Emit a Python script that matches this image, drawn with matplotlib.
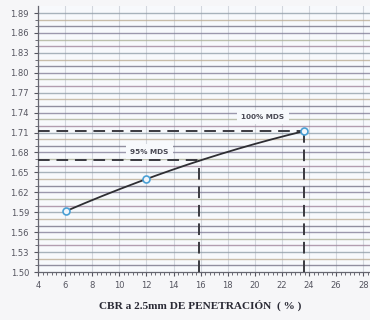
import numpy as np
import matplotlib
matplotlib.use("Agg")
import matplotlib.pyplot as plt

# Data
cbr = [6.1, 12.0, 23.6]
density = [1.592, 1.640, 1.712]
mds_100 = 1.713
mds_95 = 1.668
cbr_100 = 23.6
cbr_95 = 15.85
xticks = [4, 6, 8, 10, 12, 14, 16, 18, 20, 22, 24, 26, 28]
yticks = [1.50, 1.53, 1.56, 1.59, 1.62, 1.65, 1.68, 1.71, 1.74, 1.77, 1.80, 1.83, 1.86, 1.89]
xlabel = "CBR a 2.5mm DE PENETRACIÓN  ( % )"

fig = plt.figure(figsize=(3.7, 3.2), dpi=100, facecolor="#f6f6f8")
ax = fig.add_axes([38/370, 48/320, 1 - 38/370, (272 - 6.4)/320])
ax.set_facecolor("#f7f9fc")
ax.set_xlim(4, 28.5)
ax.set_ylim(1.50, 1.90)

# vertical grid
for xv in xticks:
    ax.axvline(xv, color="#d3d7de", lw=0.8, zorder=1)

# horizontal colored grid lines every 0.01
grid_cols = ["#6f6a80", "#b9a98f", "#8d9aa5", "#9b7f97", "#a9ad93", "#7d7893"]
levels = np.round(np.arange(1.51, 1.895, 0.01), 2)
for i, yv in enumerate(levels):
    ax.axhline(yv, color=grid_cols[i % len(grid_cols)], lw=1.0, alpha=0.75, zorder=1)

# fitted curve through data
coef = np.polyfit(cbr, density, 2)
xs = np.linspace(min(cbr), max(cbr), 200)
ax.plot(xs, np.polyval(coef, xs), color="#2e2e33", lw=1.3, zorder=4)
ax.plot(cbr, density, linestyle="none", marker="o", ms=5, mfc="#f2f6fb",
        mec="#4aa0d5", mew=1.2, zorder=5)

# reference dashed lines
dash = dict(color="#3a3a40", lw=1.4, dashes=(6, 3.5), zorder=3)
ax.plot([4, cbr_100], [mds_100, mds_100], **dash)
ax.plot([cbr_100, cbr_100], [1.50, mds_100], **dash)
ax.plot([4, cbr_95], [mds_95, mds_95], **dash)
ax.plot([cbr_95, cbr_95], [1.50, mds_95], **dash)

box = dict(boxstyle="square,pad=0.6", fc="#f7f9fc", ec="none")
ax.text(20.6, 1.7335, "100% MDS", fontsize=5.2, fontweight="bold", color="#4a4a55",
        ha="center", va="center", bbox=box, zorder=6)
ax.text(12.2, 1.681, "95% MDS", fontsize=5.2, fontweight="bold", color="#4a4a55",
        ha="center", va="center", bbox=box, zorder=6)

ax.set_xticks(xticks)
ax.set_xticks(np.arange(4, 28.6, 1/3), minor=True)
ax.set_yticks(yticks)
ax.set_yticks(np.arange(1.50, 1.90, 0.01), minor=True)
ax.set_yticklabels([f"{v:.2f}" for v in yticks])
ax.tick_params(axis="both", which="major", labelsize=6, colors="#555560", length=3, width=0.8)
ax.tick_params(axis="both", which="minor", length=2, width=0.6, colors="#555560")
for s in ["top", "right"]:
    ax.spines[s].set_visible(False)
for s in ["left", "bottom"]:
    ax.spines[s].set_color("#666670")
    ax.spines[s].set_linewidth(0.9)

fig.text(200/370, 1 - 305/320, xlabel, ha="center", va="center",
         family="Liberation Serif", fontweight="bold", fontsize=8.1, color="#2a2a35")

fig.savefig("out.png", dpi=100, facecolor=fig.get_facecolor())
